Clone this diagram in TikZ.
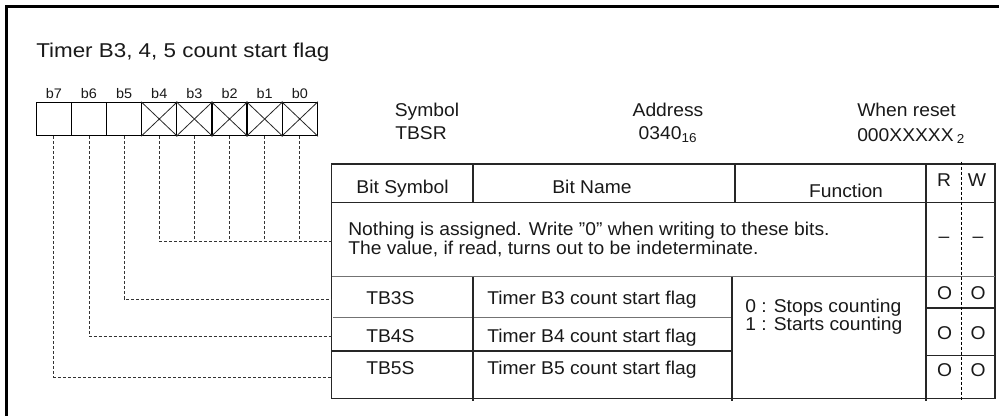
\documentclass[tikz,border=0pt]{standalone}
\usepackage{fontspec}
\setmainfont{Liberation Sans}[FakeStretch=1.04]
\newfontfamily\titlefont{Liberation Sans}[FakeStretch=1.12]
\begin{document}
\begin{tikzpicture}[x=0.75pt,y=-0.75pt,
  frameline/.style={line width=2.4pt,draw=black},
  tline/.style={line width=0.8pt,draw=black!85},
  tgray/.style={line width=0.8pt,draw=black!55},
  rwdash/.style={line width=0.7pt,draw=black,dash pattern=on 2.25pt off 1.5pt},
  conn/.style={line width=0.7pt,draw=black!80,dash pattern=on 2.25pt off 1.5pt},
  cell/.style={draw=black,line width=0.9pt,minimum width=26.35pt,minimum height=25.05pt,inner sep=0pt},
  xline/.style={line width=0.6pt,draw=black!85},
  title/.style={font=\titlefont\fontsize{15pt}{18pt}\selectfont,inner sep=0pt,text=black!90},
  lbl/.style={font=\fontsize{10.4pt}{12pt}\selectfont,inner sep=0pt,text=black!90},
  txt/.style={font=\fontsize{13.9pt}{16pt}\selectfont,inner sep=0pt,text=black!90}
]
\useasboundingbox (0,0) rectangle (999,415);
% outer frame
\draw[frameline] (6.5,425) -- (6.5,6.5) -- (1010,6.5);

% title
\node[title,anchor=base west] (title) at (36,57) {Timer B3, 4, 5 count start flag};

% register cells
\foreach \n/\x in {7/53.87,6/89.0,5/124.13,4/159.26,3/194.39,2/229.52,1/264.65,0/299.78}{
  \node[cell] (c\n) at (\x,119) {};
  \node[lbl,anchor=base] (l\n) at (\x,98) {b\n};
}
\foreach \n in {4,3,2,1,0}{
  \draw[xline] (c\n.north west) -- (c\n.south east) (c\n.north east) -- (c\n.south west);
}

% symbol / address / reset
\node[txt,anchor=base west] (sym) at (394.5,116) {Symbol};
\node[txt,anchor=base west] (symv) at (395,139.5) {TBSR};
\node[txt,anchor=base] (adr) at (668,116) {Address};
\node[txt,anchor=base] (adrv) at (668,139.5) {0340\textsubscript{16}};
\node[txt,anchor=base west] (rst) at (857,116.5) {When reset};
\node[txt,anchor=base west] (rstv) at (857,141) {000XXXXX\,\textsubscript{2}};

% table frame
\draw[tline] (331.7,164) rectangle (995,398.5);
\draw[tline] (331.7,202.7) -- (995,202.7);
\draw[tgray] (331.7,276.7) -- (995,276.7);
\draw[tgray] (333,317.7) -- (732,317.7);
\draw[tline] (331.7,351) -- (732,351);
\draw[tline] (926,308) -- (995,308);
\draw[tline] (926,355.5) -- (995,355.5);
\draw[tline] (473,164) -- (473,202.7);
\draw[tline] (473,276.7) -- (473,401);
\draw[tline] (735,164) -- (735,202.7);
\draw[tline] (732,276.7) -- (732,401);
\draw[tline] (926,164) -- (926,401);
\draw[rwdash] (961,161.5) -- (961,401);

% header texts
\node[txt,anchor=base] (hbs) at (402.5,193) {Bit Symbol};
\node[txt,anchor=base] (hbn) at (592,193) {Bit Name};
\node[txt,anchor=base] (hfn) at (846,197) {Function};
\node[txt,anchor=base] (hr) at (944,186) {R};
\node[txt,anchor=base] (hw) at (977,186) {W};

% nothing row
\node[txt,anchor=base west] (n1) at (348,235.5) {Nothing is assigned. Write \symbol{34}0\symbol{34} when writing to these bits.};
\node[txt,anchor=base west] (n2) at (348,254.5) {The value, if read, turns out to be indeterminate.};
\node[txt] (nr) at (944,240) {\textendash};
\node[txt] (nw) at (978,240) {\textendash};

% bit rows
\node[txt,anchor=base west] (s3) at (366,304.5) {TB3S};
\node[txt,anchor=base west] (s4) at (366,342.5) {TB4S};
\node[txt,anchor=base west] (s5) at (366,374.5) {TB5S};
\node[txt,anchor=base west] (m3) at (487,304.5) {Timer B3 count start flag};
\node[txt,anchor=base west] (m4) at (487,342.5) {Timer B4 count start flag};
\node[txt,anchor=base west] (m5) at (487,374.5) {Timer B5 count start flag};
\node[txt,anchor=base west] (f0) at (745,312) {0 : Stops counting};
\node[txt,anchor=base west] (f1) at (745,330.5) {1 : Starts counting};
\foreach \y [count=\i] in {299.5,339.5,376.5}{
  \node[txt,anchor=base] (or\i) at (944.5,\y) {O};
  \node[txt,anchor=base] (ow\i) at (978,\y) {O};
}

% connector end points at table edge
\coordinate (eN) at (331.7,241.7);
\coordinate (e5) at (331.7,299);
\coordinate (e6) at (331.7,336.7);
\coordinate (e7) at (331.7,377.3);

% dashed connectors
\draw[conn] (c4.south) |- (eN);
\foreach \n in {3,2,1,0}{
  \draw[conn] (c\n.south) -- (c\n.south |- eN);
}
\draw[conn] (c5.south) |- (e5);
\draw[conn] (c6.south) |- (e6);
\draw[conn] (c7.south) |- (e7);
\end{tikzpicture}
\end{document}
